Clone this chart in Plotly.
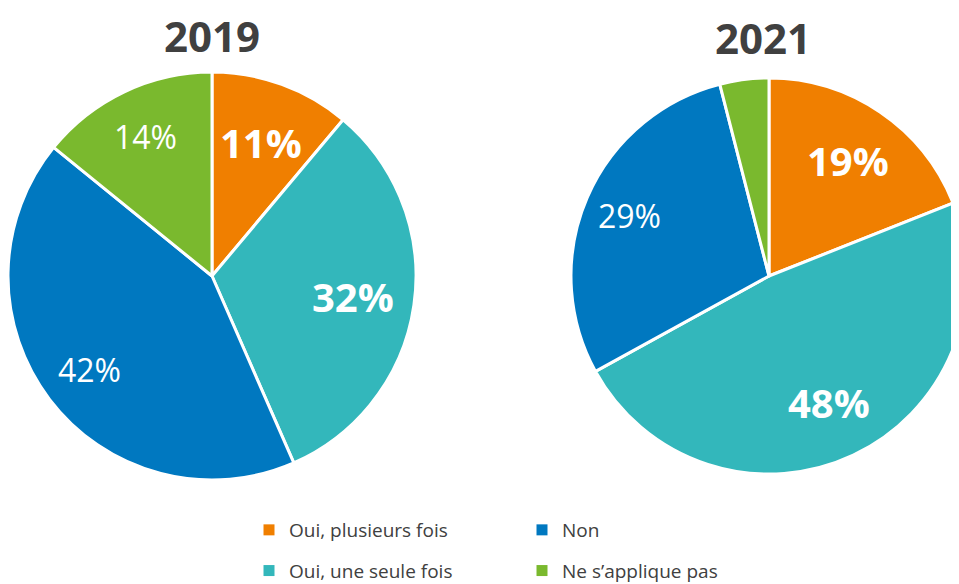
import math
import plotly.graph_objects as go

categories = ["Oui, plusieurs fois", "Oui, une seule fois", "Non", "Ne s\u2019applique pas"]
colors = ["#F07F00", "#33B7BB", "#0078C0", "#7AB92E"]
years = ["2019", "2021"]
values_2019 = [11, 32, 42, 14]
values_2021 = [19, 48, 29, 4]
labels_2019 = ["11%", "32%", "42%", "14%"]
labels_2021 = ["19%", "48%", "29%", ""]

# ---- styling / layout (pixels in figure coordinates) ----
W, H = 959, 584
FONT = "Open Sans"
TXT = "#404040"
bold_label = [True, True, False, False]
pies = [
    dict(cx=204, cy=268, r=200, dom_x=[0, 408], dom_y=[64, 472]),
    dict(cx=761, cy=268, r=197, dom_x=[563, 959], dom_y=[68, 468]),
]

fig = go.Figure()

for vals, texts, p in zip([values_2019, values_2021], [labels_2019, labels_2021], pies):
    fig.add_trace(go.Pie(
        labels=categories, values=vals, textinfo="none",
        sort=False, direction="clockwise", rotation=0,
        marker=dict(colors=colors, line=dict(color="white", width=3)),
        hoverinfo="label+percent", showlegend=False,
        domain=dict(x=[p["dom_x"][0] / W, p["dom_x"][1] / W],
                    y=[1 - p["dom_y"][1] / H, 1 - p["dom_y"][0] / H]),
    ))
    total = float(sum(vals))
    cum = 0.0
    for v, t, b in zip(vals, texts, bold_label):
        mid = (cum + v / 2) / total * 2 * math.pi
        cum += v
        if not t:
            continue
        rf = 0.71 if b else 0.77
        px = p["cx"] + rf * p["r"] * math.sin(mid)
        py = p["cy"] - rf * p["r"] * math.cos(mid)
        fig.add_annotation(
            text=("<b>%s</b>" % t) if b else t,
            x=px / W, y=1 - py / H, xref="paper", yref="paper",
            showarrow=False, xanchor="center", yanchor="middle",
            font=dict(size=40 if b else 32, color="white", family=FONT),
        )

legend_of = ["legend", "legend", "legend2", "legend2"]
for i, (c, col) in enumerate(zip(categories, colors)):
    fig.add_trace(go.Scatter(
        x=[None], y=[None], mode="markers", name=c,
        marker=dict(symbol="square", size=11, color=col),
        legend=legend_of[i], legendgroup=c, showlegend=True,
    ))

for yr, xc, yc in zip(years, [204, 755], [27, 29]):
    fig.add_annotation(
        text="<b>%s</b>" % yr, x=xc / W, y=1 - yc / H, xref="paper", yref="paper",
        showarrow=False, xanchor="center", yanchor="middle",
        font=dict(size=42, color=TXT, family=FONT),
    )

leg_common = dict(
    orientation="v", yanchor="top", xanchor="left", tracegroupgap=13,
    font=dict(size=19, color=TXT, family=FONT), bgcolor="rgba(0,0,0,0)",
)
fig.update_layout(
    width=W, height=H, margin=dict(l=0, r=0, t=0, b=0),
    paper_bgcolor="white", plot_bgcolor="white",
    xaxis=dict(visible=False), yaxis=dict(visible=False),
    legend=dict(x=241 / W, y=1 - 503 / H, **leg_common),
    legend2=dict(x=514 / W, y=1 - 503 / H, **leg_common),
    showlegend=True,
)

fig.write_html("out.html")
